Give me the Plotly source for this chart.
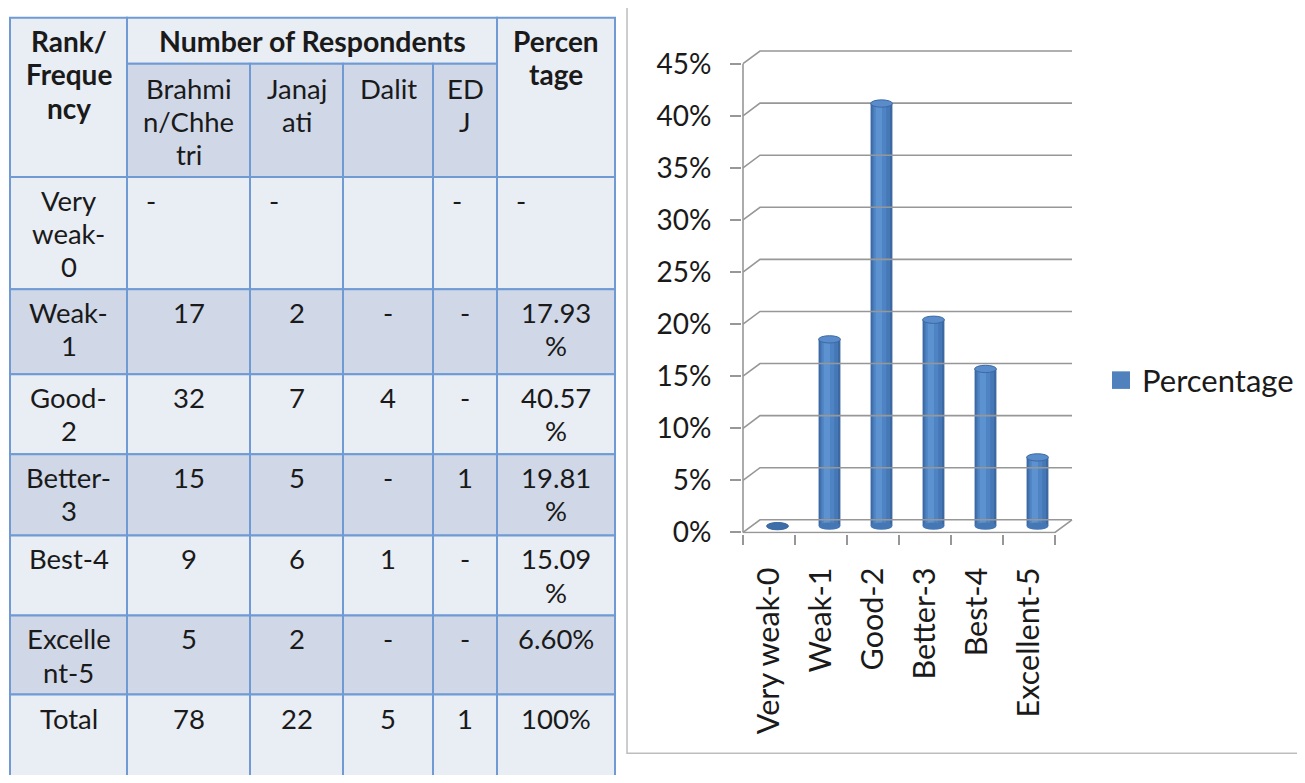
import plotly.graph_objects as go

W, H = 1305, 783
OFF = 8  # page body margin
FIG_W = W - 2 * OFF
FIG_H = H - 2 * OFF

# ---------------- table data ----------------
header_rank = ["Rank/", "Freque", "ncy"]
header_group = ["Number of Respondents"]
header_pct = ["Percen", "tage"]
sub_headers = [["Brahmi", "n/Chhe", "tri"], ["Janaj", "ati"], ["Dalit"], ["ED", "J"]]
row_labels = [["Very", "weak-", "0"], ["Weak-", "1"], ["Good-", "2"], ["Better-", "3"],
              ["Best-4"], ["Excelle", "nt-5"], ["Total"]]
brahmin_chhetri = ["-", "17", "32", "15", "9", "5", "78"]
janajati = ["-", "2", "7", "5", "6", "2", "22"]
dalit = ["", "-", "4", "-", "1", "-", "5"]
edj = ["-", "-", "-", "1", "-", "-", "1"]
pct_cells = [["-"], ["17.93", "%"], ["40.57", "%"], ["19.81", "%"], ["15.09", "%"],
             ["6.60%"], ["100%"]]

# ---------------- chart data ----------------
categories = ["Very weak-0", "Weak-1", "Good-2", "Better-3", "Best-4", "Excellent-5"]
percentage = [0.0, 0.1793, 0.4057, 0.1981, 0.1509, 0.0660]
pct_ticks = [0, 0.05, 0.10, 0.15, 0.20, 0.25, 0.30, 0.35, 0.40, 0.45]
series_name = "Percentage"

# ---------------- styling ----------------
FONT = "Lato"
TXT = "#1a1a1a"
LIGHT = "#E9EDF4"
DARK = "#D0D8E8"
BORDER = "#6F9AD3"
GRID = "#979797"

col_x = [10, 127, 250, 343, 433, 497, 615]
head_top, head_mid, head_bot = 15, 62, 178
row_y = [178, 293, 380, 462, 545, 627, 708, 800]
LINE_H = 34
PAD_TOP = 24


def px(x):
    return (x - OFF) / FIG_W


def py(y):
    return 1 - (y - OFF) / FIG_H


shapes = []
annotations = []


def cell(x0, y0, x1, y1, fill):
    shapes.append(dict(type="rect", xref="paper", yref="paper",
                       x0=px(x0), x1=px(x1), y0=py(y1), y1=py(y0),
                       fillcolor=fill, line=dict(color=BORDER, width=2), layer="below"))


def text(lines, x, y_top, bold=False, anchor="center", size=27.5):
    for k, s in enumerate(lines):
        annotations.append(dict(
            xref="paper", yref="paper", x=px(x), y=py(y_top + PAD_TOP + k * LINE_H),
            text=f"<b>{s}</b>" if bold else s, showarrow=False,
            xanchor=anchor, yanchor="middle",
            font=dict(family=FONT, size=size, color=TXT)))


# header
cell(col_x[0], head_top, col_x[1], head_bot, LIGHT)
cell(col_x[1], head_top, col_x[5], head_mid, LIGHT)
cell(col_x[5], head_top, col_x[6], head_bot, LIGHT)
for i in range(4):
    cell(col_x[1 + i], head_mid, col_x[2 + i], head_bot, DARK)
text(header_rank, (col_x[0] + col_x[1]) / 2, head_top, bold=True, size=28)
text(header_group, (col_x[1] + col_x[5]) / 2, head_top, bold=True, size=28.5)
text(header_pct, (col_x[5] + col_x[6]) / 2, head_top, bold=True, size=28)
for i, sh in enumerate(sub_headers):
    text(sh, (col_x[1 + i] + col_x[2 + i]) / 2, head_mid + 1)

# body
columns = [brahmin_chhetri, janajati, dalit, edj]
for r in range(len(row_labels)):
    fill = LIGHT if r % 2 == 0 else DARK
    y0, y1 = row_y[r], row_y[r + 1]
    for c in range(6):
        cell(col_x[c], y0, col_x[c + 1], y1, fill)
    text(row_labels[r], (col_x[0] + col_x[1]) / 2, y0)
    vals = [[v] for v in [col[r] for col in columns]] + [pct_cells[r]]
    for c, v in enumerate(vals):
        if r == 0:
            text(v, col_x[c + 1] + 17, y0, anchor="left")
        else:
            text(v, (col_x[c + 1] + col_x[c + 2]) / 2, y0)

# chart frame
shapes.append(dict(type="rect", xref="paper", yref="paper",
                   x0=px(627), x1=px(1330), y0=py(768), y1=py(4),
                   line=dict(color="#BDBDBD", width=1.5), layer="below"))

# ---------------- pseudo-3D column chart ----------------
ORIGIN_X, ORIGIN_Y = 743, 542
CAT_W = 52
PPU = 1066.7
DEPTH_X, DEPTH_Y = 17, 13
n = len(categories)
dxc = DEPTH_X / CAT_W
dyv = DEPTH_Y / PPU
x_range = [-0.52, n - 0.5 + dxc + 0.03]
y_range = [-0.001, pct_ticks[-1] + dyv + 0.002]
x_dom = [px(ORIGIN_X + (x_range[0] + 0.5) * CAT_W),
         px(ORIGIN_X + (x_range[1] + 0.5) * CAT_W)]
y_dom = [py(ORIGIN_Y - y_range[0] * PPU), py(ORIGIN_Y - y_range[1] * PPU)]

gx, gy = [], []
for t in pct_ticks:
    gx += [-0.5, -0.5 + dxc, n - 0.5 + dxc, None]
    gy += [t, t + dyv, t + dyv, None]
gx += [-0.5, -0.5, None, -0.5, n - 0.5, n - 0.5 + dxc, None]
gy += [0, pct_ticks[-1], None, 0, 0, dyv, None]

fig = go.Figure()
fig.add_trace(go.Scatter(x=gx, y=gy, mode="lines", xaxis="x3", yaxis="y",
                         line=dict(color=GRID, width=1.6), hoverinfo="skip",
                         showlegend=False))

idx = list(range(n))
BAR_W = 0.42
layers = [(0.42, 0.0, "#3C69A3"), (0.34, -0.005, "#4678B6"),
          (0.24, -0.03, "#4F84C4"), (0.12, -0.05, "#5D92D1")]
for w, shift, color in layers:
    fig.add_trace(go.Bar(x=idx, y=percentage, base=[dyv / 2] * n, width=w,
                         offset=dxc / 2 - w / 2 + shift, marker=dict(color=color, line_width=0),
                         name=series_name, showlegend=False, hoverinfo="skip"))

for i, v in zip(idx, percentage):
    cx = i + dxc / 2
    # bottom cap
    shapes.append(dict(type="circle", xref="x", yref="y",
                       x0=cx - BAR_W / 2, x1=cx + BAR_W / 2,
                       y0=dyv / 2 - 0.0035, y1=dyv / 2 + 0.0035,
                       fillcolor="#4577B4", line=dict(width=0), layer="above"))
    # top cap
    shapes.append(dict(type="circle", xref="x", yref="y",
                       x0=cx - BAR_W / 2, x1=cx + BAR_W / 2,
                       y0=v + dyv / 2 - 0.0035, y1=v + dyv / 2 + 0.0035,
                       fillcolor="#5A8CCB" if v > 0 else "#3E6EA8",
                       line=dict(color="#3C69A3", width=1), layer="above"))

# legend
shapes.append(dict(type="rect", xref="paper", yref="paper",
                   x0=px(1112), x1=px(1130), y0=py(395), y1=py(377),
                   fillcolor="#4F81BD", line=dict(width=0)))
annotations.append(dict(xref="paper", yref="paper", x=px(1140), y=py(386),
                        text=series_name, showarrow=False, xanchor="left", yanchor="middle",
                        font=dict(family=FONT, size=31, color=TXT)))

fig.update_layout(
    width=FIG_W, height=FIG_H, margin=dict(l=0, r=0, t=0, b=0),
    paper_bgcolor="white", plot_bgcolor="rgba(0,0,0,0)",
    barmode="overlay", showlegend=False,
    shapes=shapes, annotations=annotations,
    xaxis=dict(domain=x_dom, range=x_range, tickvals=idx, ticktext=categories,
               tickangle=-90, ticks="", showgrid=False, zeroline=False, showline=False,
               ticklabelstandoff=27, tickfont=dict(family=FONT, size=30.5, color=TXT)),
    xaxis3=dict(overlaying="x", anchor="y", range=x_range,
                tickvals=[i - 0.5 for i in range(n + 1)], ticks="outside", ticklen=10,
                tickwidth=1.5, tickcolor=GRID, showticklabels=False, showgrid=False,
                zeroline=False, showline=False),
    yaxis=dict(domain=y_dom, range=y_range, tickvals=pct_ticks, tickformat=".0%",
               ticks="outside", ticklen=11, tickwidth=1.5, tickcolor=GRID,
               showgrid=False, zeroline=False, showline=False, ticklabelstandoff=13,
               tickfont=dict(family=FONT, size=28, color=TXT)),
)

fig.write_html("out.html", config={"displayModeBar": False})
